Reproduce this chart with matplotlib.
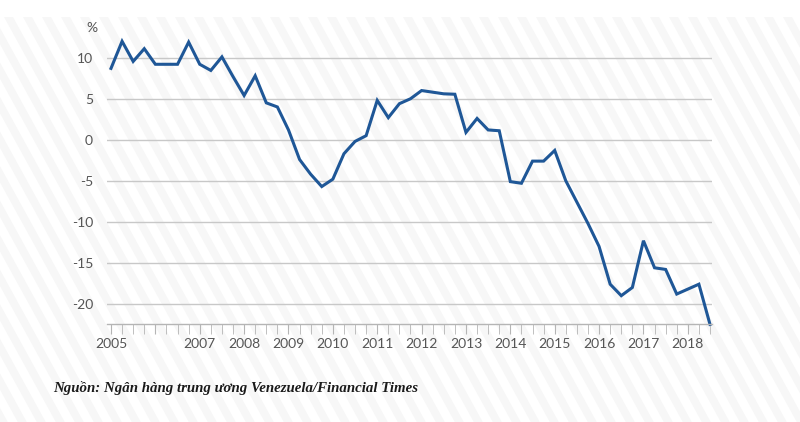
import numpy as np
import matplotlib
matplotlib.use("Agg")
import matplotlib.pyplot as plt
from matplotlib.patches import Polygon

# Данные: квартальные значения, %
start_year = 2005
values = [
    8.7, 12.0, 9.55, 11.1,      # 2005
    9.2, 9.2, 9.2, 11.9,        # 2006
    9.2, 8.45, 10.1, 7.7,       # 2007
    5.4, 7.8, 4.5, 4.0,         # 2008
    1.2, -2.4, -4.2, -5.7,      # 2009
    -4.8, -1.7, -0.2, 0.5,      # 2010
    4.8, 2.7, 4.4, 5.0,         # 2011
    6.0, 5.8, 5.6, 5.55,        # 2012
    0.9, 2.6, 1.2, 1.1,         # 2013
    -5.1, -5.3, -2.6, -2.6,     # 2014
    -1.3, -5.0, -7.6, -10.2,    # 2015
    -13.0, -17.6, -19.0, -18.0, # 2016
    -12.3, -15.6, -15.8, -18.8, # 2017
    -18.2, -17.6, -22.5,        # 2018
]
year_labels = ["2005", "", "2007", "2008", "2009", "2010", "2011", "2012",
               "2013", "2014", "2015", "2016", "2017", "2018"]
y_ticks = [10, 5, 0, -5, -10, -15, -20]
source = "Nguồn: Ngân hàng trung ương Venezuela/Financial Times"

x = start_year + np.arange(len(values)) * 0.25

fig = plt.figure(figsize=(8, 4.22), dpi=100)
fig.patch.set_facecolor("white")

# Фон в косую полоску
bg = fig.add_axes([0, 0, 1, 1])
bg.set_xlim(0, 800)
bg.set_ylim(422, 0)
bg.axis("off")
top, slope, period, width = 17, 0.55, 19, 9
for x0 in np.arange(-300, 820, period):
    poly = [(x0, top), (x0 + width, top),
            (x0 + width + slope * (422 - top), 422), (x0 + slope * (422 - top), 422)]
    bg.add_patch(Polygon(poly, closed=True, facecolor="#f7f7f7", edgecolor="none"))

# График
ax = fig.add_axes([107 / 800, 1 - 324 / 422, (712 - 107) / 800, (324 - 29) / 422])
ax.set_facecolor("none")
ax.plot(x, values, color="#1f5797", lw=2.2, solid_joinstyle="miter", clip_on=False)

ax.set_xlim(2005 - 4 / 44.4, 2018.5 + 2 / 44.4)
ax.set_ylim(-22.45, 13.5)

for s in ["top", "right", "left"]:
    ax.spines[s].set_visible(False)
ax.spines["bottom"].set_color("#b5b5b5")
ax.spines["bottom"].set_linewidth(1)

ax.set_yticks(y_ticks)
ax.set_yticklabels([str(v) for v in y_ticks])
ax.tick_params(axis="y", length=0, pad=10, labelsize=10, labelcolor="#555555")
ax.yaxis.grid(True, color="#c8c8c8", lw=1)
ax.set_axisbelow(True)

years = np.arange(2005, 2019)
ax.set_xticks(years)
ax.set_xticklabels(year_labels)
ax.set_xticks(np.arange(2005, 2018.51, 0.25), minor=True)
ax.tick_params(axis="x", which="both", length=7, color="#b5b5b5", direction="out",
               labelsize=10, labelcolor="#555555", pad=3)

for lbl in ax.get_xticklabels() + ax.get_yticklabels():
    lbl.set_family("Lato")

ax.text(-0.0165, 13.6, "%", transform=ax.get_yaxis_transform(), ha="right", va="center",
        fontsize=10, color="#555555", family="Lato")

fig.text(53 / 800, 1 - 388 / 422, source, fontsize=10.7, style="italic", weight="bold",
         family="Liberation Serif", color="#1a1a1a", va="center", ha="left")

fig.savefig("out.png", dpi=100)
